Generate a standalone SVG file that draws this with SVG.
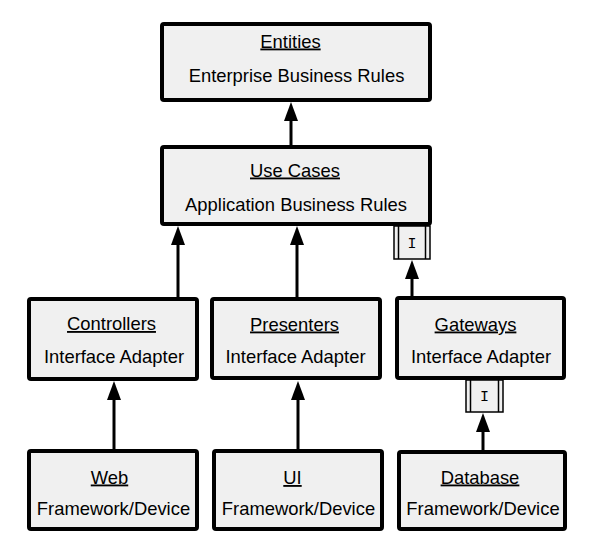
<svg xmlns="http://www.w3.org/2000/svg" width="595" height="552" viewBox="0 0 595 552">
<style>
.box{fill:#f0f0f0;stroke:#000;stroke-width:4}
.t{font-family:"Liberation Sans",Arial,sans-serif;font-size:18.4px;fill:#000;text-anchor:middle}
.u{text-decoration:underline}
.c{fill:none;stroke:#000;stroke-width:3}
.ifc{fill:#f0f0f0;stroke:#000;stroke-width:1.5}
.il{stroke:#000;stroke-width:1.5}
.it{font-family:"Liberation Mono","Courier New",monospace;font-size:15px;fill:#000;text-anchor:middle}
</style>
<defs>
<marker id="ah" viewBox="0 0 19 14" refX="11" refY="7" markerWidth="19" markerHeight="14" markerUnits="userSpaceOnUse" orient="auto">
<path d="M0,0 L19,7 L0,14 z" fill="#000"/>
</marker>
</defs>
<g id="connectors">
<path class="c" d="M291,145 V110" marker-end="url(#ah)"/>
<path class="c" d="M178,297 V234" marker-end="url(#ah)"/>
<path class="c" d="M297,297 V234" marker-end="url(#ah)"/>
<path class="c" d="M412,297 V268" marker-end="url(#ah)"/>
<path class="c" d="M114,449 V389" marker-end="url(#ah)"/>
<path class="c" d="M298,449 V389" marker-end="url(#ah)"/>
<path class="c" d="M483,450 V421" marker-end="url(#ah)"/>
</g>
<g id="entities">
<rect class="box" x="162" y="24" width="268" height="76" rx="2"/>
<text class="t u" x="290.5" y="47.5">Entities</text>
<text class="t" x="296.5" y="81.5">Enterprise Business Rules</text>
</g>
<g id="usecases">
<rect class="box" x="162" y="147" width="268" height="77" rx="2"/>
<text class="t u" x="295" y="176.5">Use Cases</text>
<text class="t" x="296" y="210.5">Application Business Rules</text>
</g>
<g id="controllers">
<rect class="box" x="29" y="299" width="168" height="80" rx="2"/>
<text class="t u" x="111.5" y="330">Controllers</text>
<text class="t" x="114" y="363">Interface Adapter</text>
</g>
<g id="presenters">
<rect class="box" x="212" y="299" width="168" height="79" rx="2"/>
<text class="t u" x="294.5" y="330.5">Presenters</text>
<text class="t" x="295.5" y="363">Interface Adapter</text>
</g>
<g id="gateways">
<rect class="box" x="397" y="298" width="167" height="80" rx="2"/>
<text class="t u" x="475.5" y="330.5">Gateways</text>
<text class="t" x="481" y="363">Interface Adapter</text>
</g>
<g id="usecases-interface">
<rect class="ifc" x="394" y="226" width="36" height="33"/>
<line class="il" x1="398.5" y1="226" x2="398.5" y2="259"/>
<line class="il" x1="425.5" y1="226" x2="425.5" y2="259"/>
<text class="it" x="412" y="248">I</text>
</g>
<g id="gateways-interface">
<rect class="ifc" x="466" y="380" width="37" height="32"/>
<line class="il" x1="470.5" y1="380" x2="470.5" y2="412"/>
<line class="il" x1="498.5" y1="380" x2="498.5" y2="412"/>
<text class="it" x="484.5" y="401">I</text>
</g>
<g id="web">
<rect class="box" x="29" y="451" width="168" height="78" rx="2"/>
<text class="t u" x="109.5" y="483.5">Web</text>
<text class="t" x="113.5" y="515">Framework/Device</text>
</g>
<g id="ui">
<rect class="box" x="214" y="451" width="168" height="78" rx="2"/>
<text class="t u" x="292.5" y="484">UI</text>
<text class="t" x="298.5" y="515">Framework/Device</text>
</g>
<g id="database">
<rect class="box" x="399" y="452" width="166" height="77" rx="2"/>
<text class="t u" x="480" y="483.5">Database</text>
<text class="t" x="483" y="515">Framework/Device</text>
</g>
</svg>
